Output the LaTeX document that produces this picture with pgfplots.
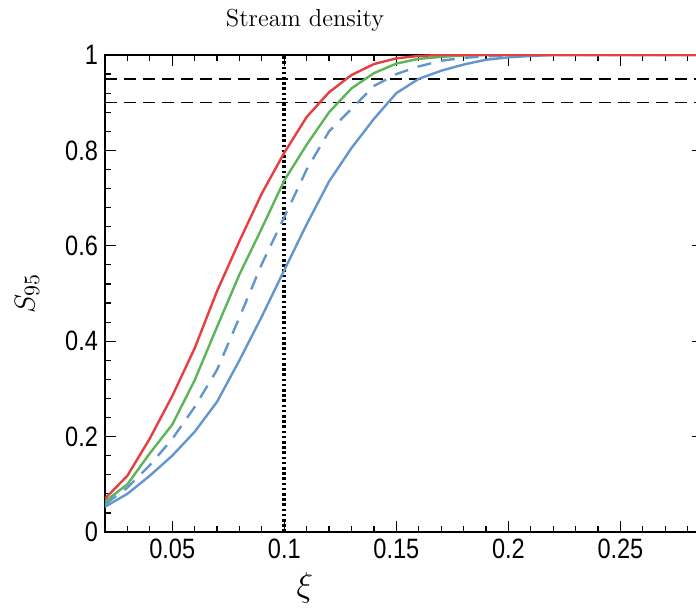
\documentclass[border=0pt]{standalone}
\usepackage{pgfplots}
\pgfplotsset{compat=1.18}
\usepackage{fontspec}
\newfontfamily\tickfont[FakeStretch=0.84]{Liberation Sans}

\definecolor{cred}{RGB}{232,62,66}
\definecolor{cgreen}{RGB}{92,182,88}
\definecolor{cblue}{RGB}{98,150,204}

\begin{document}
\begin{tikzpicture}
\begin{axis}[
  at={(0,0)}, anchor=south west,
  scale only axis,
  width=299pt, height=238.5pt,
  xmin=0.02, xmax=0.28685,
  ymin=0, ymax=1,
  xtick={0.05,0.1,0.15,0.2,0.25},
  xticklabels={0.05,0.1,0.15,0.2,0.25},
  minor xtick={0.03,0.04,0.06,0.07,0.08,0.09,0.11,0.12,0.13,0.14,0.16,0.17,0.18,0.19,0.21,0.22,0.23,0.24,0.26,0.27,0.28},
  ytick={0,0.2,0.4,0.6,0.8,1},
  yticklabels={0,0.2,0.4,0.6,0.8,1},
  minor ytick={0.04,0.08,0.12,0.16,0.24,0.28,0.32,0.36,0.44,0.48,0.52,0.56,0.64,0.68,0.72,0.76,0.84,0.88,0.92,0.96},
  tick align=inside,
  major tick length=5.5pt,
  minor tick length=3pt,
  tick style={black, line width=0.6pt},
  axis line style={line width=0.7pt},
  ticklabel style={font=\tickfont\fontsize{14}{16}\selectfont},
  /pgf/number format/assume math mode=true,
  xlabel={$\xi$},
  xlabel style={at={(rel axis cs:0.3344,-0.1174)}, anchor=center, font=\fontsize{17}{20}\selectfont, inner sep=0pt},
  ylabel={$S_{95}$},
  ylabel style={at={(rel axis cs:-0.1304,0.5)}, anchor=center, font=\fontsize{15.5}{18}\selectfont, inner sep=0pt},
  clip=true,
]
% reference levels
\addplot[black, line width=0.75pt, dash pattern=on 6pt off 3.5pt] coordinates {(0.02,0.95) (0.30,0.95)};
\addplot[black, line width=0.75pt, dash pattern=on 6pt off 3.5pt] coordinates {(0.02,0.90) (0.30,0.90)};
\addplot[black, line width=1.9pt, dash pattern=on 1.3pt off 1.3pt] coordinates {(0.1,0) (0.1,1)};

% blue, solid
\addplot[cblue, line width=1.2pt] coordinates {
(0.02,0.053) (0.03,0.080) (0.04,0.118) (0.05,0.160) (0.06,0.210) (0.07,0.273)
(0.08,0.360) (0.09,0.452) (0.10,0.549) (0.11,0.645) (0.12,0.735) (0.13,0.805)
(0.14,0.866) (0.15,0.920) (0.16,0.950) (0.17,0.967) (0.18,0.980) (0.19,0.990)
(0.20,0.995) (0.21,0.998) (0.22,1.0) (0.30,1.0)};

% blue, dashed
\addplot[cblue, line width=1.2pt, dash pattern=on 7pt off 5pt] coordinates {
(0.02,0.058) (0.03,0.093) (0.04,0.140) (0.05,0.195) (0.06,0.262) (0.07,0.340)
(0.08,0.450) (0.09,0.562) (0.10,0.660) (0.11,0.760) (0.12,0.840) (0.13,0.887)
(0.14,0.935) (0.15,0.960) (0.16,0.976) (0.17,0.988) (0.18,0.994) (0.19,0.997)
(0.20,0.999) (0.21,1.0) (0.30,1.0)};

% green
\addplot[cgreen, line width=1.2pt] coordinates {
(0.02,0.064) (0.03,0.100) (0.04,0.165) (0.05,0.225) (0.06,0.318) (0.07,0.430)
(0.08,0.540) (0.09,0.637) (0.10,0.737) (0.11,0.812) (0.12,0.880) (0.13,0.930)
(0.14,0.962) (0.15,0.982) (0.16,0.992) (0.17,0.996) (0.18,0.999) (0.19,1.0)
(0.30,1.0)};

% red
\addplot[cred, line width=1.2pt] coordinates {
(0.02,0.070) (0.03,0.118) (0.04,0.196) (0.05,0.285) (0.06,0.385) (0.07,0.505)
(0.08,0.610) (0.09,0.710) (0.10,0.795) (0.11,0.870) (0.12,0.922) (0.13,0.958)
(0.14,0.981) (0.15,0.993) (0.16,0.998) (0.17,1.0) (0.30,1.0)};

\coordinate (O) at (rel axis cs:0,0);
\end{axis}
% panel title
\node[anchor=base, inner sep=0pt, font=\fontsize{12.3}{14}\selectfont] at ([shift={(100pt,252.5pt)}]O) {Stream density};
\pgfresetboundingbox
\path[use as bounding box] ([shift={(-52.5pt,-38.5pt)}]O) rectangle ([shift={(295.5pt,266pt)}]O);
\end{tikzpicture}
\end{document}
